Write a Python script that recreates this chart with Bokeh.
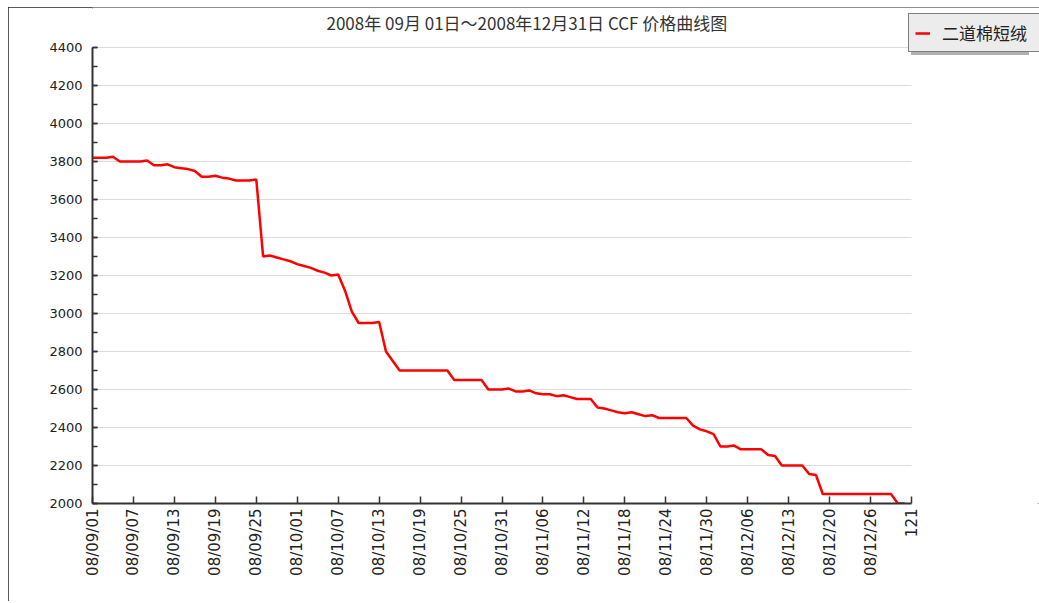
import math
from bokeh.plotting import figure
from bokeh.models import Range1d, FixedTicker, Legend, LegendItem, ColumnDataSource, Label
from bokeh.embed import file_html
from bokeh.resources import INLINE

title_text = "2008年 09月 01日～2008年12月31日  CCF  价格曲线图"
series_name = "二道棉短绒"

prices = [
    3820, 3820, 3820, 3825,
    3800, 3800, 3800, 3800, 3805,
    3780, 3780, 3785,
    3770, 3765, 3760, 3750,
    3720, 3720, 3725,
    3715, 3710, 3700, 3700, 3700, 3705,
    3300, 3305,
    3295, 3285, 3275, 3260, 3250, 3240, 3225, 3215, 3200, 3205,
    3120, 3010, 2950,
    2950, 2950, 2955,
    2800, 2750,
    2700, 2700, 2700, 2700, 2700, 2700, 2700, 2700,
    2650, 2650, 2650, 2650, 2650,
    2600, 2600, 2600, 2605,
    2590, 2590, 2595,
    2580, 2575, 2575, 2565, 2570, 2560, 2550, 2550, 2550,
    2505, 2500, 2490, 2480, 2475, 2480, 2470, 2460, 2465, 2450,
    2450, 2450, 2450, 2450,
    2410, 2390, 2380, 2365,
    2300, 2300, 2305,
    2285, 2285, 2285, 2285,
    2255, 2250,
    2200, 2200, 2200, 2200,
    2155, 2150,
    2050, 2050, 2050, 2050, 2050, 2050, 2050, 2050, 2050, 2050, 2050,
    2000, 2000,
]
index = list(range(len(prices)))

x_tick_positions = list(range(0, 121, 6))
x_tick_labels = [
    "08/09/01", "08/09/07", "08/09/13", "08/09/19", "08/09/25",
    "08/10/01", "08/10/07", "08/10/13", "08/10/19", "08/10/25",
    "08/10/31", "08/11/06", "08/11/12", "08/11/18", "08/11/24",
    "08/11/30", "08/12/06", "08/12/13", "08/12/20", "08/12/26", "121",
]
y_major = list(range(2000, 4401, 200))
y_minor = list(range(2000, 4401, 100))

# layout (pixels)
W, H = 1031, 594
BL, BB = 84, 98
AXIS_W, AXIS_H = 819, 456          # pixel extent of the labelled axes
frame_w, frame_h = W - BL, H - BB
x0, x1 = x_tick_positions[0], x_tick_positions[-1]
y0, y1 = y_major[0], y_major[-1]
x_end = x0 + (x1 - x0) * frame_w / AXIS_W
y_end = y0 + (y1 - y0) * frame_h / AXIS_H

p = figure(width=W, height=H, output_backend="svg", toolbar_location=None,
           x_range=Range1d(x0, x_end), y_range=Range1d(y0, y_end),
           min_border_left=BL, min_border_right=0, min_border_top=0,
           min_border_bottom=BB,
           background_fill_color="white", border_fill_color="white")
p.outline_line_color = None
p.styles = {"outline": "2px solid #222222", "outline-offset": "-2px"}

# grid lines (only across the labelled x extent)
p.xgrid.visible = False
p.ygrid.visible = False
p.segment(x0=[x0] * len(y_major), x1=[x1] * len(y_major), y0=y_major, y1=y_major,
          line_color="#dcdcdc", line_width=1)

src = ColumnDataSource(dict(x=index, y=prices))
r = p.line("x", "y", source=src, line_color="#ff0000", line_width=2.5)

# axes
p.xaxis.bounds = (x0, x1)
p.xaxis.ticker = FixedTicker(ticks=x_tick_positions, minor_ticks=[])
p.xaxis.major_label_overrides = {pos: lab for pos, lab in zip(x_tick_positions, x_tick_labels)}
p.xaxis.major_label_orientation = math.pi / 2
p.xaxis.major_tick_in = 7
p.xaxis.major_tick_out = 0
p.xaxis.minor_tick_in = 0
p.xaxis.minor_tick_out = 0
p.xaxis.major_label_standoff = 5
p.xaxis.major_label_text_font = "DejaVu Sans"
p.xaxis.major_label_text_font_size = "15px"
p.xaxis.major_label_text_color = "#222222"

p.yaxis.bounds = (y0, y1)
p.yaxis.ticker = FixedTicker(ticks=y_major, minor_ticks=y_minor)
p.yaxis.major_tick_in = 5
p.yaxis.major_tick_out = 0
p.yaxis.minor_tick_in = 5
p.yaxis.minor_tick_out = 0
p.yaxis.major_label_standoff = 10
p.yaxis.major_label_text_font = "DejaVu Sans"
p.yaxis.major_label_text_font_size = "13px"
p.yaxis.major_label_text_color = "#222222"

for ax in (p.xaxis, p.yaxis):
    ax.axis_line_color = "#333333"
    ax.axis_line_width = 2
    ax.major_tick_line_color = "#333333"
    ax.minor_tick_line_color = "#333333"
    ax.major_tick_line_width = 1.5
    ax.minor_tick_line_width = 1.5

# title
p.add_layout(Label(x=234, y=481, x_units="screen", y_units="screen",
                   text=title_text, text_align="left", text_baseline="middle",
                   text_font="Noto Sans CJK SC", text_font_size="17px",
                   text_color="#333333"))

legend_kw = dict(padding=6, margin=0, spacing=0,
                 glyph_width=15, glyph_height=18, label_height=18,
                 label_width=91, label_standoff=12,
                 label_text_font="Noto Sans CJK SC", label_text_font_size="17px")

# legend shadow (blank box drawn behind the legend, offset down-right)
shadow_r = p.line([], [], line_alpha=0)
shadow = Legend(items=[LegendItem(label=" ", renderers=[shadow_r])],
                location=(819, 448),
                background_fill_color="#a8a8a8", background_fill_alpha=0.9,
                border_line_color=None, **legend_kw)
p.add_layout(shadow, "center")

legend = Legend(items=[LegendItem(label=series_name, renderers=[r])],
                location=(816, 451), label_text_color="#222222",
                background_fill_color="#ececec", background_fill_alpha=1,
                border_line_color="#111111", border_line_width=1, **legend_kw)
p.add_layout(legend, "center")

html = file_html(p, INLINE)
html = html.replace("</head>", "<style>body{padding:7px 0 0 8px !important;}</style></head>", 1)
open("out.html", "w").write(html)
